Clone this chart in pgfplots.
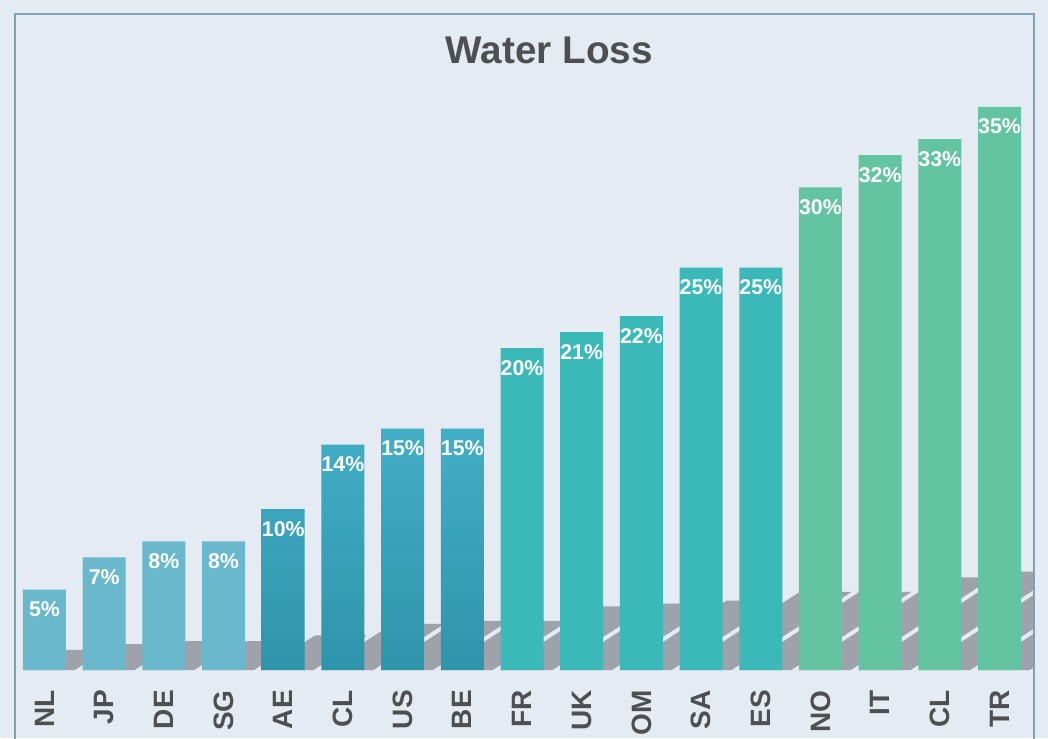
\documentclass[border=0pt]{standalone}
\usepackage{pgfplots}
\pgfplotsset{compat=1.18}
\usepackage{fontspec}
\setmainfont{Liberation Sans}
\definecolor{bg}{HTML}{E4EBF3}
\definecolor{framec}{HTML}{7FA1B2}
\definecolor{titlec}{HTML}{4D4F51}
\definecolor{cA}{HTML}{6AB8CC}
\definecolor{cBtop}{HTML}{42AEC6}
\definecolor{cBbot}{HTML}{2E94AB}
\definecolor{cC}{HTML}{3BB8B8}
\definecolor{cD}{HTML}{62C4A0}
\definecolor{shadow}{HTML}{9EA3AB}
\begin{document}
\begin{tikzpicture}
\clip (0,0) rectangle (786pt,553.5pt);
\fill[bg] (0,0) rectangle (786pt,553.5pt);
\begin{axis}[
  at={(11.25pt,51pt)}, anchor=south west,
  scale only axis, width=764.25pt, height=492pt,
  xmin=-0.494, xmax=16.578, ymin=0, ymax=40.77,
  axis line style={draw=none}, tick style={draw=none},
  ytick=\empty,
  xtick={0,...,16},
  xticklabels={NL,JP,DE,SG,AE,CL,US,BE,FR,UK,OM,SA,ES,NO,IT,CL,TR},
  xticklabel style={rotate=90, anchor=east, inner sep=0pt, xshift=-15pt,
    font=\fontsize{21}{21}\selectfont\bfseries, text=titlec},
  /pgf/number format/assume math mode=true,
  every node near coord/.append style={anchor=north, inner sep=0pt, yshift=-9pt,
    font=\fontsize{16}{16}\selectfont\bfseries, text=white},
]
% shadows
\pgfplotsset{shd/.style={fill=shadow, draw=none, forget plot, mark=none}}
\addplot[shd] coordinates {(-0.36,0) (0.51,0) (1.028,1.25) (0.158,1.25)};
\addplot[shd] coordinates {(0.64,0) (1.51,0) (2.178,1.61) (1.308,1.61)};
\addplot[shd] coordinates {(1.64,0) (2.51,0) (3.252,1.79) (2.382,1.79)};
\addplot[shd] coordinates {(2.64,0) (3.51,0) (4.252,1.79) (3.382,1.79)};
\addplot[shd] coordinates {(3.64,0) (4.51,0) (5.401,2.15) (4.531,2.15)};
\addplot[shd] coordinates {(4.64,0) (5.51,0) (6.700,2.87) (5.830,2.87)};
\addplot[shd] coordinates {(5.64,0) (6.51,0) (7.775,3.05) (6.905,3.05)};
\addplot[shd] coordinates {(6.64,0) (7.51,0) (8.775,3.05) (7.905,3.05)};
\addplot[shd] coordinates {(7.64,0) (8.51,0) (10.148,3.95) (9.278,3.95)};
\addplot[shd] coordinates {(8.64,0) (9.51,0) (11.222,4.13) (10.352,4.13)};
\addplot[shd] coordinates {(9.64,0) (10.51,0) (12.297,4.31) (11.427,4.31)};
\addplot[shd] coordinates {(10.64,0) (11.51,0) (13.521,4.85) (12.651,4.85)};
\addplot[shd] coordinates {(11.64,0) (12.51,0) (14.521,4.85) (13.651,4.85)};
\addplot[shd] coordinates {(12.64,0) (13.51,0) (15.894,5.75) (15.024,5.75)};
\addplot[shd] coordinates {(13.64,0) (14.51,0) (17.043,6.11) (16.173,6.11)};
\addplot[shd] coordinates {(14.64,0) (15.51,0) (18.118,6.29) (17.248,6.29)};
\addplot[shd] coordinates {(15.64,0) (16.51,0) (19.267,6.65) (18.397,6.65)};
% bars
\pgfplotsset{bars/.style={ybar, bar width=32.25pt, bar shift=0pt, draw=none,
  nodes near coords={\pgfmathprintnumber{\pgfplotspointmeta}\%}}}
\addplot[bars, fill=cA] coordinates {(0,5) (1,7) (2,8) (3,8)};
\addplot[bars, top color=cBtop, bottom color=cBbot] coordinates {(4,10) (5,14) (6,15) (7,15)};
\addplot[bars, fill=cC] coordinates {(8,20) (9,21) (10,22) (11,25) (12,25)};
\addplot[bars, fill=cD] coordinates {(13,30) (14,32) (15,33) (16,35)};
\end{axis}
\draw[framec, line width=1.5pt] (11.25pt,-2pt) -- (11.25pt,543pt) -- (775.5pt,543pt) -- (775.5pt,-2pt);
\node[font=\fontsize{29}{29}\selectfont\bfseries, text=titlec] at (412pt,516pt) {Water Loss};
\end{tikzpicture}
\end{document}
